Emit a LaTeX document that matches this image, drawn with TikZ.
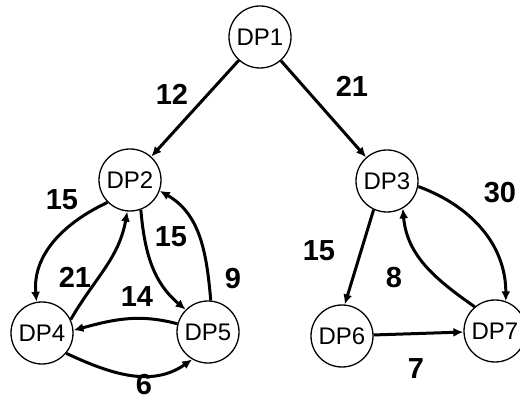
\documentclass[tikz,border=0pt]{standalone}
\usepackage{fontspec}
\setmainfont{Liberation Sans}
\usetikzlibrary{arrows.meta}
\begin{document}
\begin{tikzpicture}[x=1pt,y=1pt,
  dpnode/.style={circle,draw,line width=1.3pt,minimum size=62pt,inner sep=0pt,font=\fontsize{24}{24}\selectfont},
  edge/.style={line width=3pt,-{Latex[length=10pt,width=9pt]}},
  wlabel/.style={font=\fontsize{29}{29}\selectfont\bfseries}]
\useasboundingbox (0,0) rectangle (520,402);
\node[dpnode] (dp1) at (260,365) {DP1};
\node[dpnode] (dp2) at (130,222) {DP2};
\node[dpnode] (dp3) at (387,221) {DP3};
\node[dpnode] (dp4) at (42,69) {DP4};
\node[dpnode] (dp5) at (208,70) {DP5};
\node[dpnode] (dp6) at (342,66) {DP6};
\node[dpnode] (dp7) at (495,71) {DP7};
\draw[edge] (dp1) -- (dp2);
\draw[edge] (dp1) -- (dp3);
\draw[edge] (dp2.225) to[out=205,in=95] (dp4.100);
\draw[edge] (dp4.25) to[out=60,in=-100] (dp2.-95);
\draw[edge] (dp2.290) to[out=-85,in=140] (dp5.135);
\draw[edge] (dp5.85) to[out=95,in=-30] (dp2.-20);
\draw[edge] (dp5.165) to[out=165,in=15] (dp4.5);
\draw[edge] (dp4.-40) to[out=-25,in=-145] (dp5.-120);
\draw[edge] (dp3.245) -- (dp6.85);
\draw[edge] (dp7.130) to[out=145,in=-85] (dp3.-60);
\draw[edge] (dp3.-10) to[out=-20,in=90] (dp7.70);
\draw[edge] (dp6) -- (dp7);
\node[wlabel] (l12) at (172,308) {12};
\node[wlabel] (l21a) at (352,316) {21};
\node[wlabel] (l15a) at (62,202) {15};
\node[wlabel] (l21b) at (75,125) {21};
\node[wlabel] (l15b) at (171,165) {15};
\node[wlabel] (l9) at (233,123) {9};
\node[wlabel] (l14) at (137,105) {14};
\node[wlabel] (l6) at (144,17) {6};
\node[wlabel] (l15c) at (319,151) {15};
\node[wlabel] (l8) at (394,124) {8};
\node[wlabel] (l30) at (500,209) {30};
\node[wlabel] (l7) at (416,33) {7};
\end{tikzpicture}
\end{document}
